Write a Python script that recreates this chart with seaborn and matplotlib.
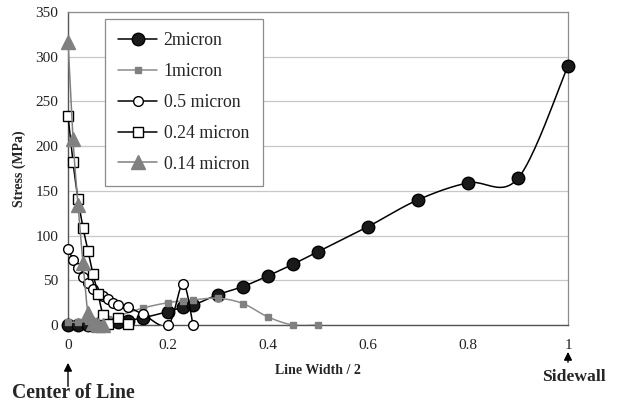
import numpy as np
import pandas as pd
import matplotlib
matplotlib.use("Agg")
import matplotlib.pyplot as plt
import seaborn as sns

# ---- data ----
x_2um = [0, 0.02, 0.04, 0.06, 0.08, 0.1, 0.12, 0.15, 0.2, 0.23, 0.25, 0.3, 0.35, 0.4, 0.45, 0.5, 0.6, 0.7, 0.8, 0.9, 1.0]
y_2um = [0, 0, 0, 1, 2, 3, 5, 8, 15, 20, 22, 34, 43, 55, 68, 82, 110, 140, 159, 164, 290]

x_1um = [0, 0.02, 0.04, 0.06, 0.08, 0.1, 0.15, 0.2, 0.23, 0.25, 0.3, 0.35, 0.4, 0.45, 0.5]
y_1um = [3, 3, 4, 5, 7, 10, 19, 25, 27, 28, 30, 24, 9, 0, 0]

x_05um = [0, 0.01, 0.02, 0.03, 0.04, 0.05, 0.06, 0.07, 0.08, 0.09, 0.1, 0.12, 0.15, 0.2, 0.23, 0.25]
y_05um = [85, 73, 64, 54, 47, 40, 35, 32, 29, 25, 22, 20, 12, 0, 46, 0]

x_024um = [0, 0.01, 0.02, 0.03, 0.04, 0.05, 0.06, 0.07, 0.08, 0.1, 0.12]
y_024um = [234, 182, 141, 109, 83, 57, 35, 11, 1, 8, 1]

x_014um = [0, 0.01, 0.02, 0.03, 0.04, 0.05, 0.06, 0.07]
y_014um = [317, 208, 134, 69, 13, 2, 0, 0]

labels = ["2micron", "1micron", "0.5 micron", "0.24 micron", "0.14 micron"]
x_ticks = [0, 0.2, 0.4, 0.6, 0.8, 1]
x_ticklabels = ["0", "0.2", "0.4", "0.6", "0.8", "1"]
y_ticks = [0, 50, 100, 150, 200, 250, 300, 350]

XMAX, YMAX = 1.0, 350.0
AX_W, AX_H = 500.0, 313.0


def smooth(xs, ys, n=24):
    """Excel-like smoothed line (Catmull-Rom Bezier) in display-proportional space."""
    u = np.asarray(xs, float) / XMAX * AX_W
    v = np.asarray(ys, float) / YMAX * AX_H
    P = np.column_stack([u, v])
    out = [P[0]]
    m = len(P)
    for i in range(m - 1):
        p0 = P[i - 1] if i > 0 else P[i]
        p1 = P[i]
        p2 = P[i + 1]
        p3 = P[i + 2] if i + 2 < m else P[i + 1]
        c1 = p1 + (p2 - p0) / 6.0
        c2 = p2 - (p3 - p1) / 6.0
        t = np.linspace(0, 1, n)[1:, None]
        B = ((1 - t) ** 3) * p1 + 3 * ((1 - t) ** 2) * t * c1 + 3 * (1 - t) * t ** 2 * c2 + t ** 3 * p2
        out.extend(B)
    out = np.array(out)
    return out[:, 0] * XMAX / AX_W, out[:, 1] * YMAX / AX_H


sns.set_theme(style="white")
plt.rcParams['font.family'] = ['Liberation Serif', 'DejaVu Serif']

fig = plt.figure(figsize=(6.22, 4.09), dpi=100)
ax = fig.add_axes([68 / 622, 1 - 325 / 409, 500 / 622, 313 / 409])

series = [
    (x_2um, y_2um, dict(color="black", marker="o", ms=9, mfc="#1a1a1a", mec="black", lw=1.1)),
    (x_1um, y_1um, dict(color="#8c8c8c", marker="s", ms=5, mfc="#808080", mec="#808080", lw=1.1)),
    (x_05um, y_05um, dict(color="black", marker="o", ms=7, mfc="white", mec="black", lw=1.1, mew=1.0)),
    (x_024um, y_024um, dict(color="black", marker="s", ms=7, mfc="white", mec="black", lw=1.1, mew=1.0)),
    (x_014um, y_014um, dict(color="#808080", marker="^", ms=10, mfc="#808080", mec="#808080", lw=1.1)),
]

handles = []
for k, (xs, ys, st) in enumerate(series):
    sx, sy = smooth(xs, ys)
    df = pd.DataFrame({"x": sx, "y": sy})
    sns.lineplot(data=df, x="x", y="y", sort=False, ax=ax, color=st["color"], lw=st["lw"],
                 zorder=3 + 2 * k, estimator=None)
    ax.plot(xs, ys, ls="none", marker=st["marker"], ms=st["ms"], mfc=st["mfc"],
            mec=st["mec"], mew=st.get("mew", 1.0), zorder=4 + 2 * k, clip_on=False)
    h, = ax.plot([], [], color=st["color"], lw=st["lw"], marker=st["marker"], ms=st["ms"],
                 mfc=st["mfc"], mec=st["mec"], mew=st.get("mew", 1.0))
    handles.append(h)

ax.set_xlim(0, 1)
ax.set_ylim(0, 350)
ax.set_xticks(x_ticks)
ax.set_xticklabels(x_ticklabels)
ax.set_yticks(y_ticks)
ax.yaxis.grid(True, color="#c8c8c8", lw=0.9)
ax.xaxis.grid(False)
ax.set_axisbelow(True)
ax.tick_params(axis="x", direction="in", length=3, width=0.6, color="#808080",
               labelsize=11, pad=10)
ax.tick_params(axis="y", length=0, labelsize=11, pad=7)
for lab in ax.get_xticklabels() + ax.get_yticklabels():
    lab.set_color("#222222")

for s in ["top", "right"]:
    ax.spines[s].set_color("#8c8c8c")
    ax.spines[s].set_linewidth(0.9)
for s in ["left", "bottom"]:
    ax.spines[s].set_color("#555555")
    ax.spines[s].set_linewidth(1.0)

ax.set_xlabel("Line Width / 2", fontsize=10, fontweight="bold", labelpad=9)
ax.set_ylabel("Stress (MPa)", fontsize=10, fontweight="bold", labelpad=7)

leg = ax.legend(handles, labels, loc="upper left", bbox_to_anchor=(0.074, 0.978),
                fontsize=12.8, frameon=True, fancybox=False, edgecolor="#8c8c8c",
                framealpha=1, labelspacing=0.78, handlelength=2.2, handletextpad=0.35,
                borderpad=0.75, borderaxespad=0)
leg.get_frame().set_linewidth(0.9)
leg.set_zorder(20)

# annotations below axis
fig.text(12 / 622, 1 - 393 / 409, "Center of Line", fontsize=14.2, fontweight="bold",
         va="center", ha="left")
fig.text(542 / 622, 1 - 377 / 409, "Sidewall", fontsize=12.6, fontweight="bold",
         va="center", ha="left")
ax.annotate("", xy=(0, -0.112), xycoords="axes fraction", xytext=(0, -0.205),
            arrowprops=dict(arrowstyle="-|>", color="black", lw=1.0, mutation_scale=12))
ax.annotate("", xy=(1, -0.077), xycoords="axes fraction", xytext=(1, -0.128),
            arrowprops=dict(arrowstyle="-|>", color="black", lw=1.0, mutation_scale=12))

fig.savefig("out.png", dpi=100)
